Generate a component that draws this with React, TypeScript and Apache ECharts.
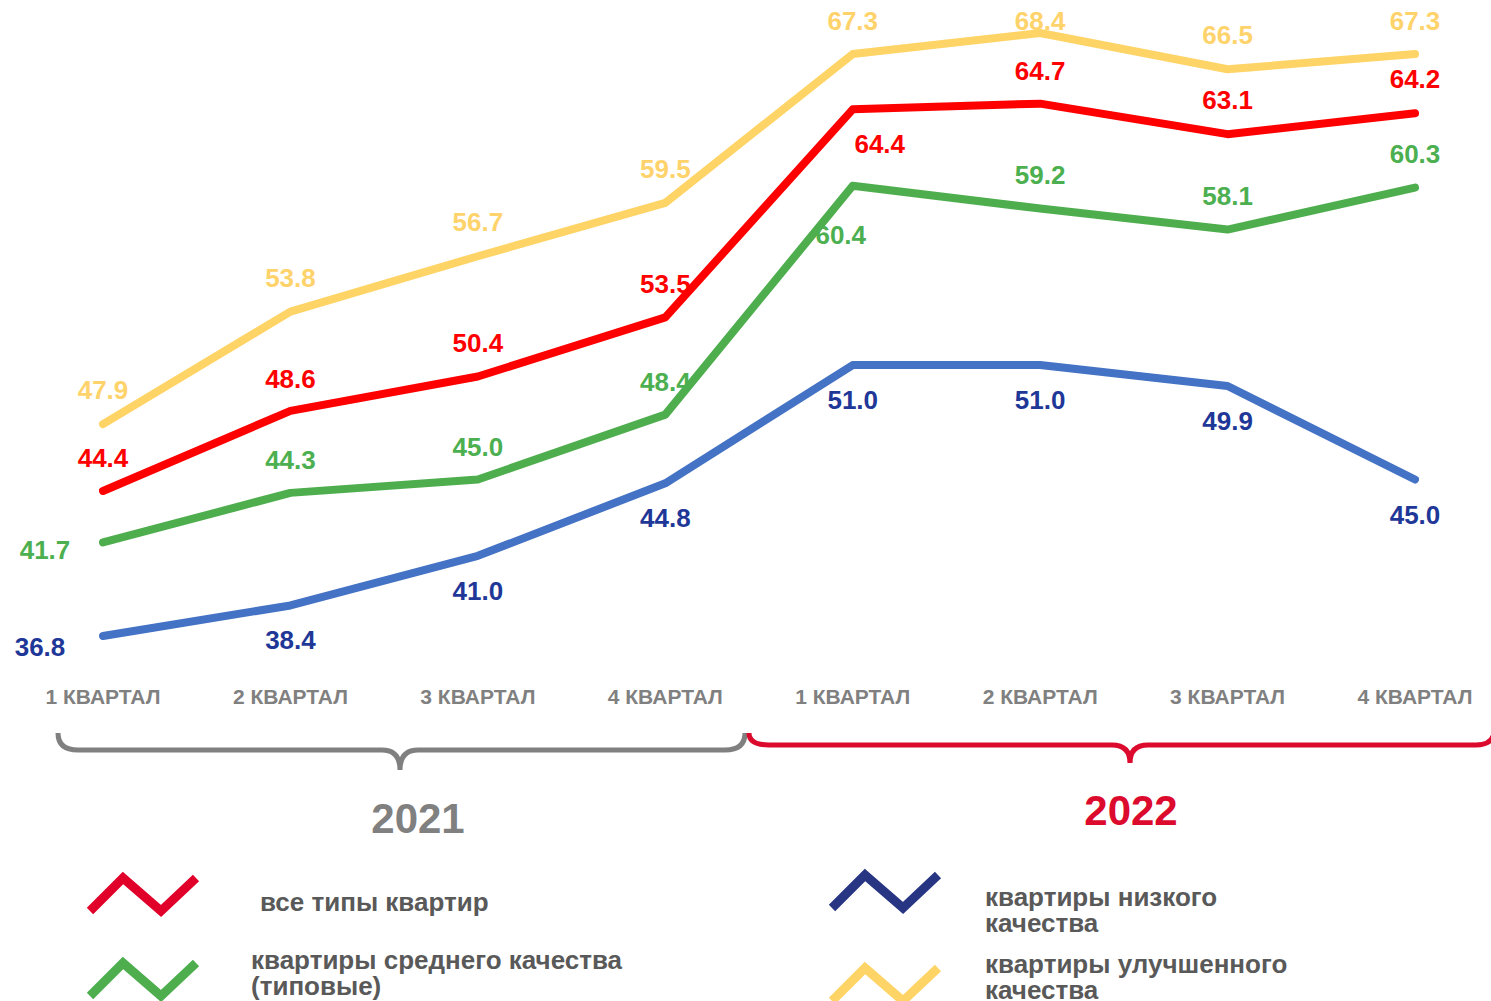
import React, { useEffect, useRef } from "react";
import * as echarts from "echarts";

const categories = ["1 КВАРТАЛ", "2 КВАРТАЛ", "3 КВАРТАЛ", "4 КВАРТАЛ", "1 КВАРТАЛ", "2 КВАРТАЛ", "3 КВАРТАЛ", "4 КВАРТАЛ"];
const allTypes = [44.4, 48.6, 50.4, 53.5, 64.4, 64.7, 63.1, 64.2];
const mediumQuality = [41.7, 44.3, 45.0, 48.4, 60.4, 59.2, 58.1, 60.3];
const lowQuality = [36.8, 38.4, 41.0, 44.8, 51.0, 51.0, 49.9, 45.0];
const improvedQuality = [47.9, 53.8, 56.7, 59.5, 67.3, 68.4, 66.5, 67.3];
const seriesNames = ["все типы квартир", "квартиры среднего качества (типовые)", "квартиры низкого качества", "квартиры улучшенного качества"];
const years = ["2021", "2022"];

// label offsets (styling only)
const offRed = [[0, -33], [0, -32], [0, -33], [0, -33], [27, 35], [0, -33], [0, -34], [0, -34]];
const offGreen = [[-58, 8], [0, -33], [0, -33], [0, -33], [-12, 49], [0, -34], [0, -34], [0, -34]];
const offBlue = [[-63, 11], [0, 35], [0, 35], [0, 35], [0, 35], [0, 35], [0, 35], [0, 35]];
const offYellow = [[0, -34], [0, -34], [0, -34], [0, -34], [0, -33], [0, -12], [0, -34], [0, -33]];

const FONT = "'Liberation Sans', Arial, sans-serif";

echarts.graphic.registerShape(
  "brace2021",
  echarts.graphic.extendPath(
    "M58,733 Q58,750 78,750 L382,750 Q400,750 400,770 Q400,750 418,750 L725,750 Q745,750 745,733",
    {}
  )
);
echarts.graphic.registerShape(
  "brace2022",
  echarts.graphic.extendPath(
    "M749,733 Q749,745 769,745 L1112,745 Q1130,745 1130,763 Q1130,745 1148,745 L1476,745 Q1492,745 1494,733",
    {}
  )
);

function makeSeries(name: string, values: number[], lineColor: string, labelColor: string, offs: number[][]) {
  return {
    name,
    type: "line",
    data: values.map((v, i) => ({
      value: v,
      label: { offset: offs[i] },
    })),
    symbol: "circle",
    symbolSize: 1,
    itemStyle: { color: lineColor },
    lineStyle: { color: lineColor, width: 8, cap: "round", join: "round" },
    label: {
      show: true,
      position: "inside",
      color: labelColor,
      fontSize: 26,
      fontWeight: "bold",
      fontFamily: FONT,
      formatter: (p: any) => Number(p.value).toFixed(1),
    },
    emphasis: { disabled: true },
  };
}

function legendIcon(x: number, y: number, color: string) {
  return {
    type: "polyline",
    shape: { points: [[x, y + 33], [x + 33, y], [x + 71, y + 33], [x + 106, y]] },
    style: { stroke: color, lineWidth: 9, fill: null, lineJoin: "miter" },
  };
}

function legendText(x: number, y: number, text: string) {
  return {
    type: "text",
    x,
    y,
    style: {
      text,
      fill: "#595959",
      fontSize: 26,
      fontWeight: "bold",
      fontFamily: FONT,
      lineHeight: 26,
      align: "left",
      verticalAlign: "middle",
    },
  };
}

export default function App() {
  const ref = useRef<HTMLDivElement>(null);
  useEffect(() => {
    if (!ref.current) return;
    const chart = echarts.init(ref.current, null, { renderer: "svg" });
    chart.setOption({
      animation: false,
      backgroundColor: "#ffffff",
      grid: { left: 103, right: 76, top: 2.5, height: 686.9 },
      xAxis: {
        type: "category",
        data: categories,
        boundaryGap: false,
        axisLine: { show: false },
        axisTick: { show: false },
        splitLine: { show: false },
        axisLabel: {
          color: "#808080",
          fontSize: 21,
          fontWeight: "bold",
          fontFamily: FONT,
          verticalAlign: "middle",
          margin: 7,
          interval: 0,
        },
      },
      yAxis: {
        type: "value",
        min: 34,
        max: 70,
        show: false,
        splitLine: { show: false },
      },
      series: [
        makeSeries(seriesNames[3], improvedQuality, "#FFD466", "#FFD36B", offYellow),
        makeSeries(seriesNames[0], allTypes, "#FF0000", "#FF0000", offRed),
        makeSeries(seriesNames[1], mediumQuality, "#4EAE4E", "#4CAF50", offGreen),
        makeSeries(seriesNames[2], lowQuality, "#4472C4", "#1F3898", offBlue),
      ],
      graphic: [
        { type: "brace2021", x: 0, y: 0, style: { stroke: "#808080", lineWidth: 5, fill: null } },
        { type: "brace2022", x: 0, y: 0, style: { stroke: "#DC0A2D", lineWidth: 5, fill: null } },
        {
          type: "text",
          x: 418,
          y: 818,
          style: { text: years[0], fill: "#808080", fontSize: 42, fontWeight: "bold", fontFamily: FONT, align: "center", verticalAlign: "middle" },
        },
        {
          type: "text",
          x: 1131,
          y: 810,
          style: { text: years[1], fill: "#DC0A2D", fontSize: 42, fontWeight: "bold", fontFamily: FONT, align: "center", verticalAlign: "middle" },
        },
        legendIcon(90, 878, "#E0002A"),
        legendIcon(90, 963, "#4EAE4E"),
        legendIcon(832, 875, "#283583"),
        legendIcon(832, 968, "#FFD466"),
        legendText(260, 902, "все типы квартир"),
        legendText(251, 972.5, "квартиры среднего качества\n(типовые)"),
        legendText(985, 910, "квартиры низкого\nкачества"),
        legendText(985, 977, "квартиры улучшенного\nкачества"),
      ],
    });
    return () => chart.dispose();
  }, []);
  return <div ref={ref} style={{ position: "absolute", left: 0, top: 0, width: 1491, height: 1001 }} />;
}
